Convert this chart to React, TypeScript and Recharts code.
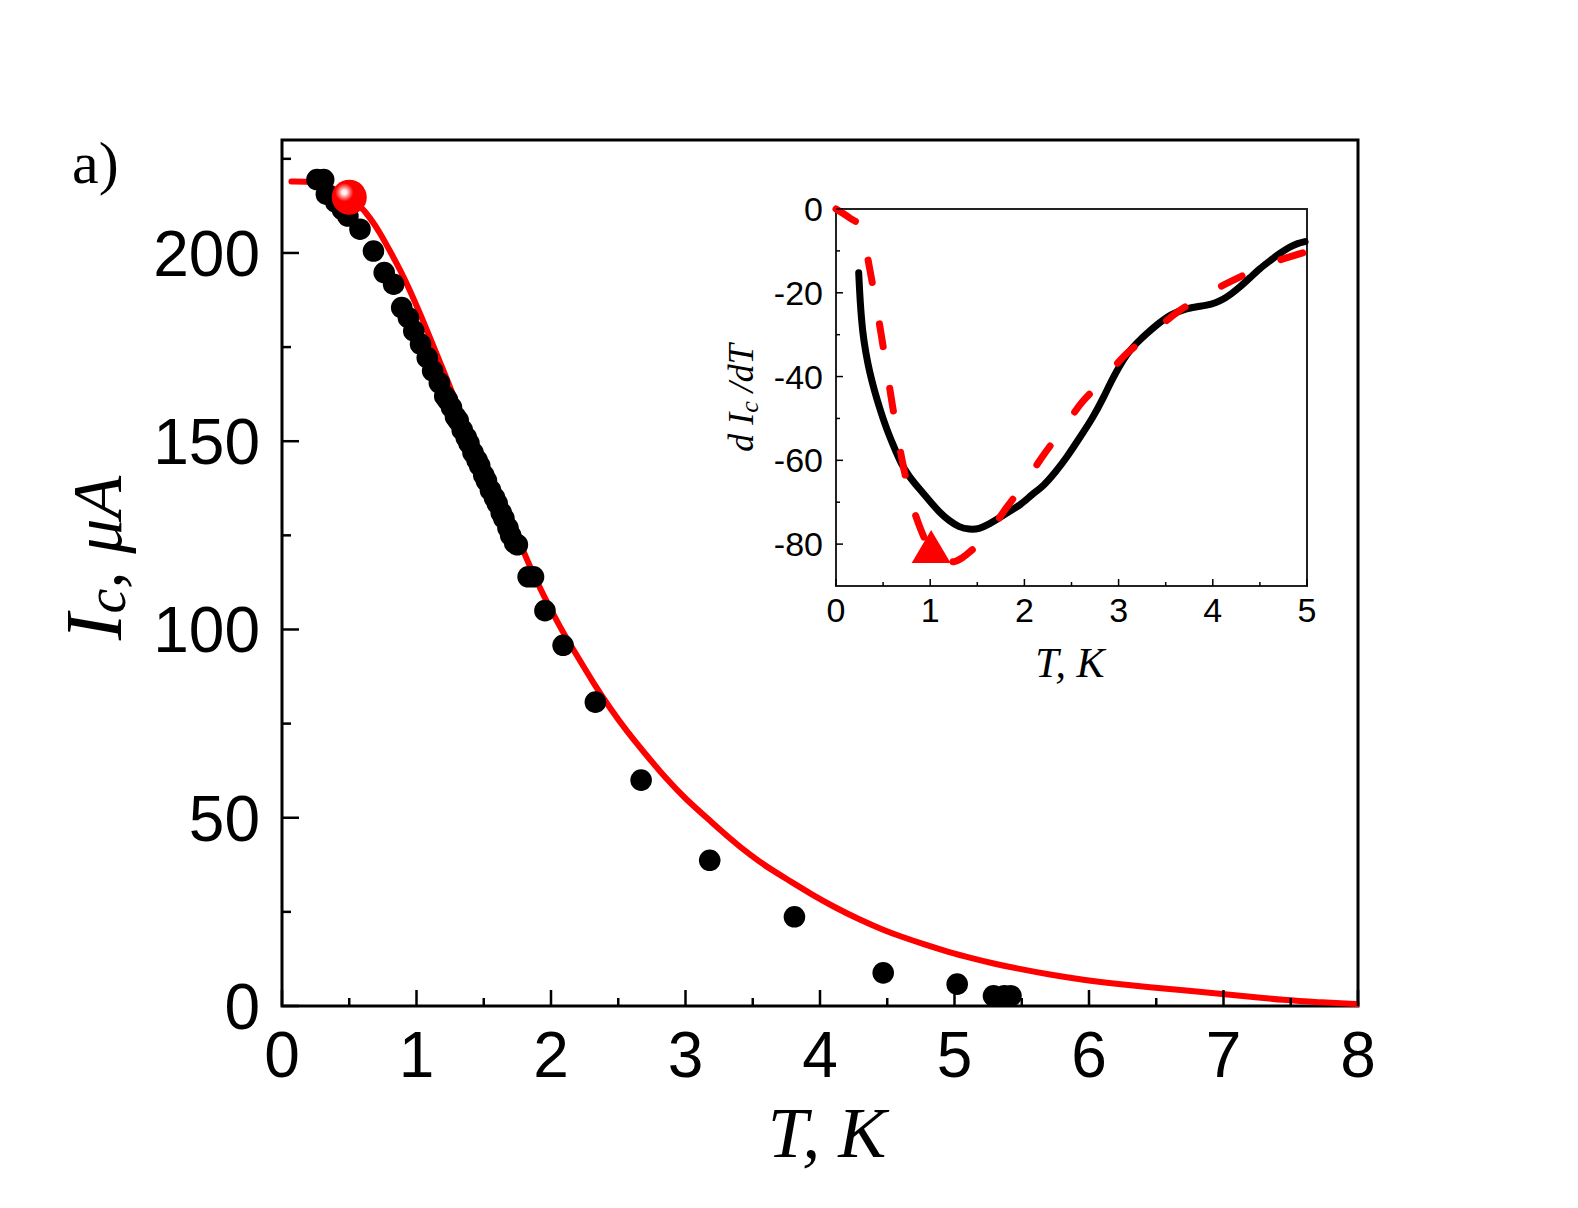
import React from 'react';
import { ComposedChart, Scatter, Line, XAxis, YAxis, ReferenceArea } from 'recharts';

// ---- main panel data ----
const dotT = [0.26, 0.31, 0.33, 0.40, 0.45, 0.49, 0.58, 0.68, 0.76, 0.83, 0.89, 0.94, 0.98, 1.03, 1.08, 1.12, 1.17, 1.21, 1.23, 1.26, 1.29, 1.31, 1.34, 1.37, 1.39, 1.42, 1.45, 1.47, 1.50, 1.52, 1.55, 1.58, 1.60, 1.63, 1.65, 1.68, 1.70, 1.73, 1.75, 1.83, 1.87, 1.955, 2.09, 2.33, 2.67, 3.18, 3.81, 4.47, 5.02, 5.29, 5.37, 5.42];
const dotI = [219.5, 219.5, 215.6, 213.5, 211.5, 209.8, 206.3, 200.5, 194.8, 191.7, 185.5, 182.8, 179.3, 175.8, 172.2, 168.7, 165.5, 162, 161, 159, 156.5, 155.5, 153, 151, 149.5, 147, 145, 143.5, 141, 139.5, 137, 135, 133.5, 131, 129.5, 127, 125, 123, 122.5, 114, 114, 105, 95.8, 80.7, 60, 38.7, 23.7, 8.8, 5.8, 2.7, 2.7, 2.7];

const fitT = [0.07, 0.2, 0.3, 0.37, 0.45, 0.5, 0.58, 0.654, 0.73, 0.803, 0.88, 0.952, 1.03, 1.1, 1.18, 1.249, 1.373, 1.47, 1.571, 1.7, 1.844, 1.95, 2.067, 2.19, 2.315, 2.44, 2.563, 2.7, 2.86, 3.0, 3.18, 3.33, 3.48, 3.62, 3.777, 3.94, 4.1, 4.29, 4.47, 4.59, 4.79, 4.95, 5.14, 5.3, 5.46, 5.71, 5.96, 6.2, 6.45, 6.72, 7.0, 7.22, 7.44, 7.7, 7.99];
const fitI = [219, 219, 218.4, 217.3, 215.8, 214.8, 212.6, 209.4, 205.3, 200.5, 195.4, 190, 183.6, 177.5, 170.6, 164.3, 153.7, 146, 139.5, 129, 116.5, 108.6, 100.6, 93.2, 85.8, 79, 73, 67, 60.2, 55, 49.3, 44.5, 40.1, 36.6, 33.2, 29.6, 26.4, 23, 20.2, 18.6, 16.2, 14.4, 12.6, 11.2, 10, 8.3, 6.9, 5.9, 5, 4.1, 3.2, 2.4, 1.6, 1.0, 0.5];

const markT = [0.5];
const markI = [214.8];

const mainXTicks = [0, 0.5, 1, 1.5, 2, 2.5, 3, 3.5, 4, 4.5, 5, 5.5, 6, 6.5, 7, 7.5, 8];
const mainYTicks = [0, 25, 50, 75, 100, 125, 150, 175, 200, 225];

// ---- inset data ----
const blackT = [0.241, 0.255, 0.283, 0.318, 0.354, 0.407, 0.46, 0.53, 0.6, 0.69, 0.78, 0.885, 0.99, 1.097, 1.2, 1.309, 1.415, 1.52, 1.627, 1.73, 1.84, 1.95, 2.088, 2.2, 2.33, 2.45, 2.59, 2.73, 2.84, 2.944, 3.086, 3.2, 3.3, 3.41, 3.51, 3.62, 3.72, 3.835, 3.935, 4.03, 4.11, 4.2, 4.29, 4.4, 4.5, 4.61, 4.71, 4.82, 4.9, 4.98];
const blackV = [-15.2, -21.8, -29.7, -34.5, -38.7, -43.3, -47.3, -52.1, -56, -60.8, -64, -66.8, -69.6, -72.4, -74.4, -76, -76.5, -76.4, -75.2, -73.8, -72.2, -70.8, -68, -66.2, -62.8, -59.3, -54.5, -49.7, -45, -40.1, -34.5, -31.8, -29.7, -27.6, -25.8, -24.6, -23.8, -23.3, -23.0, -22.4, -21.6, -20.2, -18.6, -16.3, -14.2, -12.3, -10.6, -9.0, -8.2, -7.8];

const redT = [0, 0.15, 0.27, 0.31, 0.354, 0.42, 0.48, 0.54, 0.6, 0.66, 0.72, 0.78, 0.84, 0.9, 0.96, 1.05, 1.15, 1.25, 1.345, 1.45, 1.557, 1.7, 1.82, 1.975, 2.22, 2.38, 2.625, 2.8, 3.086, 3.3, 3.65, 3.88, 4.29, 4.52, 5.0];
const redV = [0, -2.2, -4.4, -8.5, -13.8, -22, -30, -38.5, -47, -55, -62, -68, -72.8, -76.5, -79.6, -82.6, -84.3, -84.2, -83.2, -81.3, -79.2, -74.8, -71, -66.3, -58.2, -53.3, -45.8, -41.7, -34.5, -30.6, -24.2, -21, -16.2, -13.8, -10.2];

const triT = [1.01];
const triV = [-80.6];

const insetXTicks = [0, 0.5, 1, 1.5, 2, 2.5, 3, 3.5, 4, 4.5, 5];
const insetYTicks = [-80, -70, -60, -50, -40, -30, -20, -10, 0];

const zip = (xs: number[], ys: number[]) => xs.map((x, i) => ({ x, y: ys[i] }));

const dots = zip(dotT, dotI);
const fit = zip(fitT, fitI);
const mark = zip(markT, markI);
const blackData = zip(blackT, blackV);
const redData = zip(redT, redV);
const triData = zip(triT, triV);

const SANS = 'Liberation Sans, Arial, sans-serif';
const SERIF = 'Liberation Serif, Times New Roman, serif';

const MainXTick = (p: any) => {
  const { x, y, payload } = p;
  const v = payload.value;
  const major = Number.isInteger(v);
  return (
    <g>
      <line x1={x} x2={x} y1={y} y2={y - (major ? 16 : 8)} stroke="#000" strokeWidth={2.5} />
      {major && (
        <text x={x} y={y + 71} textAnchor="middle" fontSize={64} fontFamily={SANS} fill="#000">{v}</text>
      )}
    </g>
  );
};

const MainYTick = (p: any) => {
  const { x, y, payload } = p;
  const v = payload.value;
  const major = v % 50 === 0;
  return (
    <g>
      <line x1={x} x2={x + (major ? 17 : 9)} y1={y} y2={y} stroke="#000" strokeWidth={2.5} />
      {major && (
        <text x={x - 22} y={y + 23} textAnchor="end" fontSize={64} fontFamily={SANS} fill="#000">{v}</text>
      )}
    </g>
  );
};

const InsetXTick = (p: any) => {
  const { x, y, payload } = p;
  const v = payload.value;
  const major = Number.isInteger(v);
  return (
    <g>
      <line x1={x} x2={x} y1={y} y2={y - (major ? 7 : 4)} stroke="#000" strokeWidth={1.5} />
      {major && (
        <text x={x} y={y + 36} textAnchor="middle" fontSize={34} fontFamily={SANS} fill="#000">{v}</text>
      )}
    </g>
  );
};

const InsetYTick = (p: any) => {
  const { x, y, payload } = p;
  const v = payload.value;
  const major = v % 20 === 0;
  return (
    <g>
      <line x1={x} x2={x + (major ? 7 : 4)} y1={y} y2={y} stroke="#000" strokeWidth={1.5} />
      {major && (
        <text x={x - 13} y={y + 12} textAnchor="end" fontSize={34} fontFamily={SANS} fill="#000">{String(v)}</text>
      )}
    </g>
  );
};

const BlackDot = (p: any) => <circle cx={p.cx} cy={p.cy} r={10.8} fill="#000" />;

const RedBall = (p: any) => (
  <g>
    <defs>
      <radialGradient id="ballGrad" cx="0.36" cy="0.36" r="0.62" fx="0.36" fy="0.36">
        <stop offset="0%" stopColor="#ffffff" />
        <stop offset="12%" stopColor="#ffe4e4" />
        <stop offset="26%" stopColor="#ff7070" />
        <stop offset="42%" stopColor="#ff0000" />
        <stop offset="100%" stopColor="#ff0000" />
      </radialGradient>
    </defs>
    <circle cx={p.cx} cy={p.cy} r={17.5} fill="url(#ballGrad)" />
  </g>
);

const RedTriangle = (p: any) => {
  const w = 39;
  const h = 33;
  const cx = p.cx;
  const cy = p.cy;
  return (
    <polygon
      points={`${cx},${cy - h / 2} ${cx - w / 2},${cy + h / 2} ${cx + w / 2},${cy + h / 2}`}
      fill="#ff0000"
    />
  );
};

export default function App() {
  return (
    <div style={{ position: 'absolute', left: 0, top: 0, width: 1578, height: 1208, background: '#fff' }}>
      {/* main chart */}
      <div style={{ position: 'absolute', left: 0, top: 0 }}>
        <ComposedChart
          width={1578}
          height={1208}
          margin={{ top: 140, right: 220, bottom: 162, left: 242 }}
        >
          <XAxis
            dataKey="x"
            type="number"
            domain={[0, 8]}
            ticks={mainXTicks}
            interval={0}
            height={40}
            axisLine={false}
            tickLine={false}
            tickSize={0}
            tickMargin={0}
            tick={<MainXTick />}
          />
          <YAxis
            dataKey="y"
            type="number"
            domain={[0, 230]}
            ticks={mainYTicks}
            interval={0}
            width={40}
            axisLine={false}
            tickLine={false}
            tickSize={0}
            tickMargin={0}
            tick={<MainYTick />}
          />
          <ReferenceArea x1={0} x2={8} y1={0} y2={230} fill="none" fillOpacity={0} stroke="#000" strokeWidth={3} />
          <Scatter data={dots} dataKey="y" shape={BlackDot} isAnimationActive={false} />
          <Line
            data={fit}
            dataKey="y"
            type="basis"
            stroke="#ff0000"
            strokeWidth={6}
            dot={false}
            activeDot={false}
            strokeLinecap="round"
            isAnimationActive={false}
          />
          <Scatter data={mark} dataKey="y" shape={RedBall} isAnimationActive={false} />
        </ComposedChart>
      </div>

      {/* inset chart */}
      <div style={{ position: 'absolute', left: 760, top: 180 }}>
        <ComposedChart
          width={600}
          height={480}
          margin={{ top: 29, right: 53, bottom: 44, left: 46 }}
        >
          <XAxis
            dataKey="x"
            type="number"
            domain={[0, 5]}
            ticks={insetXTicks}
            interval={0}
            height={30}
            axisLine={false}
            tickLine={false}
            tickSize={0}
            tickMargin={0}
            tick={<InsetXTick />}
          />
          <YAxis
            dataKey="y"
            type="number"
            domain={[-90, 0]}
            ticks={insetYTicks}
            interval={0}
            width={30}
            axisLine={false}
            tickLine={false}
            tickSize={0}
            tickMargin={0}
            tick={<InsetYTick />}
          />
          <ReferenceArea x1={0} x2={5} y1={-90} y2={0} fill="none" fillOpacity={0} stroke="#222" strokeWidth={2} />
          <Line
            data={blackData}
            dataKey="y"
            type="basis"
            stroke="#000"
            strokeWidth={7}
            dot={false}
            activeDot={false}
            strokeLinecap="round"
            isAnimationActive={false}
          />
          <Line
            data={redData}
            dataKey="y"
            type="monotone"
            stroke="#ff0000"
            strokeWidth={7}
            strokeDasharray="23 42"
            strokeLinecap="round"
            dot={false}
            activeDot={false}
            isAnimationActive={false}
          />
          <Scatter data={triData} dataKey="y" shape={RedTriangle} isAnimationActive={false} />
        </ComposedChart>
      </div>

      {/* text overlay */}
      <svg width={1578} height={1208} style={{ position: 'absolute', left: 0, top: 0, pointerEvents: 'none' }}>
        <text x={72} y={183} fontSize={60} fontFamily={SERIF} fill="#000">a)</text>
        <text x={827} y={1157} textAnchor="middle" fontSize={72} fontFamily={SERIF} fontStyle="italic" fill="#000">T, K</text>
        <text
          x={121}
          y={558}
          textAnchor="middle"
          fontFamily={SERIF}
          fontStyle="italic"
          fill="#000"
          transform="rotate(-90 121 558)"
        >
          <tspan fontSize={80}>I</tspan>
          <tspan fontSize={56} dy={4}>c</tspan>
          <tspan fontSize={70} dy={-4}>, μA</tspan>
        </text>
        <text x={1070} y={677} textAnchor="middle" fontSize={42} fontFamily={SERIF} fontStyle="italic" fill="#000">T, K</text>
        <text
          x={753}
          y={398}
          textAnchor="middle"
          fontFamily={SERIF}
          fontStyle="italic"
          fill="#000"
          transform="rotate(-90 753 398)"
        >
          <tspan fontSize={36}>d I</tspan>
          <tspan fontSize={26} dy={5}>c</tspan>
          <tspan fontSize={36} dy={-5}> /dT</tspan>
        </text>
      </svg>
    </div>
  );
}
